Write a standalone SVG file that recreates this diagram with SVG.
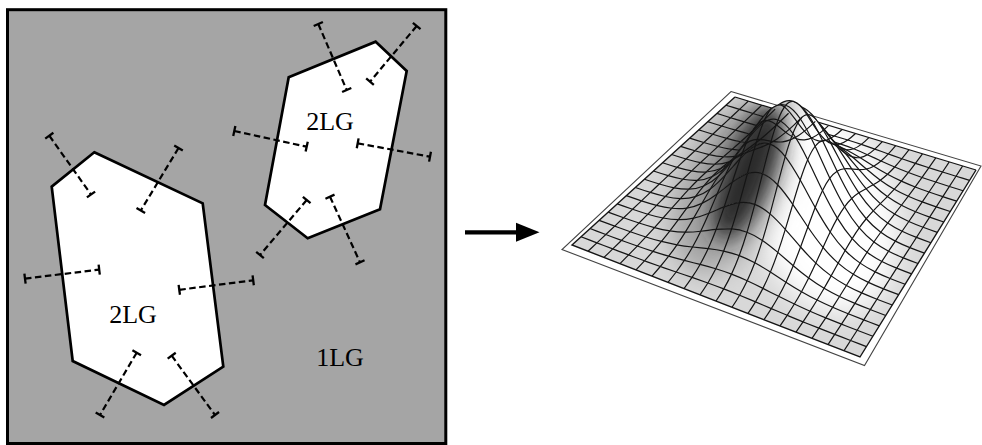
<svg xmlns="http://www.w3.org/2000/svg" width="982" height="445" viewBox="0 0 982 445">
<style>
.ol{fill:#fff;stroke:#000;stroke-width:2.7;stroke-linejoin:miter}
.ms{fill:none;stroke:#000;stroke-width:2.2;stroke-dasharray:6.5 3.5;marker-start:url(#cap);marker-end:url(#cap)}
.lbl{font-family:"Liberation Serif","Times New Roman",serif;font-size:26px;fill:#000;text-anchor:middle}
.g{fill:none;stroke:#151515;stroke-width:1.2;stroke-linejoin:round}
</style>
<defs>
<marker id="cap" markerUnits="userSpaceOnUse" markerWidth="4" markerHeight="14" viewBox="-2 -7 4 14" refX="0" refY="0" orient="auto"><path d="M0,-5V5" stroke="#000" stroke-width="2.3" fill="none"/></marker>
<filter id="bl1" x="-60%" y="-60%" width="220%" height="220%"><feGaussianBlur stdDeviation="14"/></filter>
<filter id="bl2" x="-80%" y="-60%" width="260%" height="220%"><feGaussianBlur stdDeviation="10"/></filter>
<path id="ui" class="g" vector-effect="non-scaling-stroke" d="M0,0 C.333,-.0007 .667,-.0019 1,-.0045 S1.667,-.0109 2,-.0183 S2.667,-.0367 3,-.0547 S3.667,-.0979 4,-.134 S4.667,-.2175 5,-.2769 S5.667,-.408 6,-.486 S6.667,-.6482 7,-.7257 S7.667,-.8737 8,-.923 S8.667,-1 9,-1 S9.667,-.9723 10,-.923 S10.667,-.8033 11,-.7257 S11.667,-.564 12,-.486 S12.667,-.3363 13,-.2769 S13.667,-.1702 14,-.134 S14.667,-.0727 15,-.0547 S15.667,-.0258 16,-.0183 S16.667,-.007 17,-.0045 S17.667,-.0007 18,0"/>
<path id="uj" class="g" vector-effect="non-scaling-stroke" d="M0,0 C.333,-.0057 .667,-.0136 1,-.0253 S1.667,-.0524 2,-.0737 S2.667,-.1219 3,-.1563 S3.667,-.2323 4,-.2813 S4.667,-.3865 5,-.4472 S5.667,-.5733 6,-.6375 S6.667,-.7645 7,-.8191 S7.667,-.9198 8,-.9514 S8.667,-1 9,-1 S9.667,-.983 10,-.9514 S10.667,-.8737 11,-.8191 S11.667,-.7016 12,-.6375 S12.667,-.508 13,-.4472 S13.667,-.3302 14,-.2813 S14.667,-.1906 15,-.1563 S15.667,-.0949 16,-.0737 S16.667,-.0369 17,-.0253 S17.667,-.0057 18,0"/>
<path id="fl" class="g" vector-effect="non-scaling-stroke" d="M0,0 L18,0"/>
<path id="ai" d="M0,0 C.333,-.0007 .667,-.0019 1,-.0045 S1.667,-.0109 2,-.0183 S2.667,-.0367 3,-.0547 S3.667,-.0979 4,-.134 S4.667,-.2175 5,-.2769 S5.667,-.408 6,-.486 S6.667,-.6482 7,-.7257 S7.667,-.8737 8,-.923 S8.667,-1 9,-1 S9.667,-.9723 10,-.923 S10.667,-.8033 11,-.7257 S11.667,-.564 12,-.486 S12.667,-.3363 13,-.2769 S13.667,-.1702 14,-.134 S14.667,-.0727 15,-.0547 S15.667,-.0258 16,-.0183 S16.667,-.007 17,-.0045 S17.667,-.0007 18,0 L18,-150 L0,-150 Z"/>
<path id="bi" d="M0,0 C.333,-.0007 .667,-.0019 1,-.0045 S1.667,-.0109 2,-.0183 S2.667,-.0367 3,-.0547 S3.667,-.0979 4,-.134 S4.667,-.2175 5,-.2769 S5.667,-.408 6,-.486 S6.667,-.6482 7,-.7257 S7.667,-.8737 8,-.923 S8.667,-1 9,-1 S9.667,-.9723 10,-.923 S10.667,-.8033 11,-.7257 S11.667,-.564 12,-.486 S12.667,-.3363 13,-.2769 S13.667,-.1702 14,-.134 S14.667,-.0727 15,-.0547 S15.667,-.0258 16,-.0183 S16.667,-.007 17,-.0045 S17.667,-.0007 18,0 L18,150 L0,150 Z"/>
<path id="af" d="M0,0 L18,0 L18,-400 L0,-400 Z"/>
<path id="bf" d="M0,0 L18,0 L18,400 L0,400 Z"/>
<clipPath id="cb0"><use href="#bf" transform="matrix(13.389 4.056 0 1 735 97)"/></clipPath>
<clipPath id="cb1"><use href="#bi" transform="matrix(13.534 4.176 0 2.83 725.944 105.222)"/></clipPath>
<clipPath id="cb2"><use href="#bi" transform="matrix(13.679 4.297 0 8.25 716.888 113.444)"/></clipPath>
<clipPath id="cb3"><use href="#bi" transform="matrix(13.824 4.417 0 17.5 707.832 121.666)"/></clipPath>
<clipPath id="cb4"><use href="#bi" transform="matrix(13.969 4.537 0 31.5 698.776 129.888)"/></clipPath>
<clipPath id="cb5"><use href="#bi" transform="matrix(14.114 4.658 0 50.09 689.72 138.11)"/></clipPath>
<clipPath id="cb6"><use href="#bi" transform="matrix(14.259 4.778 0 71.39 680.664 146.332)"/></clipPath>
<clipPath id="cb7"><use href="#bi" transform="matrix(14.404 4.899 0 91.74 671.608 154.554)"/></clipPath>
<clipPath id="cb8"><use href="#bi" transform="matrix(14.549 5.019 0 106.56 662.552 162.776)"/></clipPath>
<clipPath id="cb9"><use href="#bi" transform="matrix(14.695 5.139 0 112 653.496 170.998)"/></clipPath>
<clipPath id="cb10"><use href="#bi" transform="matrix(14.84 5.26 0 106.56 644.44 179.22)"/></clipPath>
<clipPath id="cb11"><use href="#bi" transform="matrix(14.985 5.38 0 91.74 635.384 187.442)"/></clipPath>
<clipPath id="cb12"><use href="#bi" transform="matrix(15.13 5.5 0 71.39 626.328 195.664)"/></clipPath>
<clipPath id="cb13"><use href="#bi" transform="matrix(15.275 5.621 0 50.09 617.272 203.886)"/></clipPath>
<clipPath id="cb14"><use href="#bi" transform="matrix(15.42 5.741 0 31.5 608.216 212.108)"/></clipPath>
<clipPath id="cb15"><use href="#bi" transform="matrix(15.565 5.862 0 17.5 599.16 220.33)"/></clipPath>
<clipPath id="cb16"><use href="#bi" transform="matrix(15.71 5.982 0 8.25 590.104 228.552)"/></clipPath>
<clipPath id="cb17"><use href="#bi" transform="matrix(15.855 6.102 0 2.83 581.048 236.774)"/></clipPath>
<clipPath id="ca1"><use href="#ai" transform="matrix(13.534 4.176 0 2.83 725.944 105.222)"/></clipPath>
<clipPath id="ca2"><use href="#ai" transform="matrix(13.679 4.297 0 8.25 716.888 113.444)"/></clipPath>
<clipPath id="ca3"><use href="#ai" transform="matrix(13.824 4.417 0 17.5 707.832 121.666)"/></clipPath>
<clipPath id="ca4"><use href="#ai" transform="matrix(13.969 4.537 0 31.5 698.776 129.888)"/></clipPath>
<clipPath id="ca5"><use href="#ai" transform="matrix(14.114 4.658 0 50.09 689.72 138.11)"/></clipPath>
<clipPath id="ca6"><use href="#ai" transform="matrix(14.259 4.778 0 71.39 680.664 146.332)"/></clipPath>
<clipPath id="ca7"><use href="#ai" transform="matrix(14.404 4.899 0 91.74 671.608 154.554)"/></clipPath>
<clipPath id="ca8"><use href="#ai" transform="matrix(14.549 5.019 0 106.56 662.552 162.776)"/></clipPath>
<clipPath id="ca9"><use href="#ai" transform="matrix(14.695 5.139 0 112 653.496 170.998)"/></clipPath>
<clipPath id="ca10"><use href="#ai" transform="matrix(14.84 5.26 0 106.56 644.44 179.22)"/></clipPath>
<clipPath id="ca11"><use href="#ai" transform="matrix(14.985 5.38 0 91.74 635.384 187.442)"/></clipPath>
<clipPath id="ca12"><use href="#ai" transform="matrix(15.13 5.5 0 71.39 626.328 195.664)"/></clipPath>
<clipPath id="ca13"><use href="#ai" transform="matrix(15.275 5.621 0 50.09 617.272 203.886)"/></clipPath>
<clipPath id="ca14"><use href="#ai" transform="matrix(15.42 5.741 0 31.5 608.216 212.108)"/></clipPath>
<clipPath id="ca15"><use href="#ai" transform="matrix(15.565 5.862 0 17.5 599.16 220.33)"/></clipPath>
<clipPath id="ca16"><use href="#ai" transform="matrix(15.71 5.982 0 8.25 590.104 228.552)"/></clipPath>
<clipPath id="ca17"><use href="#ai" transform="matrix(15.855 6.102 0 2.83 581.048 236.774)"/></clipPath>
<clipPath id="ca18"><use href="#af" transform="matrix(16 6.223 0 1 572 245)"/></clipPath>
<clipPath id="quad"><polygon points="735,97 976,170 860,357 572,245"/></clipPath>
<g id="shade">
<rect x="555" y="60" width="427" height="320" fill="#d8d8d8"/>
<ellipse cx="825" cy="210" rx="70" ry="105" transform="rotate(-15 825 210)" fill="#fff" filter="url(#bl1)"/>
<ellipse cx="728" cy="188" rx="48" ry="90" transform="rotate(22 728 188)" fill="#a0a0a0" filter="url(#bl1)"/>
<ellipse cx="748" cy="172" rx="24" ry="72" transform="rotate(22 748 172)" fill="#2a2a2a" filter="url(#bl2)"/>
</g>
<g id="cols">
<use href="#uj" transform="matrix(-8.911 8.342 0 0.5 748.39 101.06)"/>
<use href="#uj" transform="matrix(-8.766 8.463 0 2.05 761.78 105.11)"/>
<use href="#uj" transform="matrix(-8.621 8.583 0 6.12 775.17 109.17)"/>
<use href="#uj" transform="matrix(-8.476 8.703 0 15.01 788.56 113.22)"/>
<use href="#uj" transform="matrix(-8.331 8.824 0 31.02 801.94 117.28)"/>
<use href="#uj" transform="matrix(-8.186 8.944 0 54.43 815.33 121.34)"/>
<use href="#uj" transform="matrix(-8.041 9.065 0 81.28 828.72 125.39)"/>
<use href="#uj" transform="matrix(-7.896 9.185 0 103.38 842.11 129.45)"/>
<use href="#uj" transform="matrix(-7.75 9.305 0 112 855.5 133.5)"/>
<use href="#uj" transform="matrix(-7.605 9.426 0 103.38 868.89 137.56)"/>
<use href="#uj" transform="matrix(-7.46 9.546 0 81.28 882.28 141.62)"/>
<use href="#uj" transform="matrix(-7.315 9.666 0 54.43 895.67 145.67)"/>
<use href="#uj" transform="matrix(-7.17 9.787 0 31.02 909.06 149.73)"/>
<use href="#uj" transform="matrix(-7.025 9.907 0 15.01 922.45 153.78)"/>
<use href="#uj" transform="matrix(-6.88 10.028 0 6.12 935.83 157.84)"/>
<use href="#uj" transform="matrix(-6.735 10.148 0 2.05 949.22 161.9)"/>
<use href="#uj" transform="matrix(-6.59 10.268 0 0.5 962.61 165.95)"/>
</g>
</defs>

<g id="panel-1LG">
<rect x="7.5" y="9.7" width="438.3" height="433.8" fill="#a5a5a5" stroke="#000" stroke-width="3"/>
<text class="lbl" x="340" y="366">1LG</text>
</g>
<g id="grain-large">
<polygon class="ol" points="94.3,152.3 202.7,203.3 223.3,366.7 164,405 72.7,361 51.7,186.7"/>
<line class="ms" x1="49.3" y1="135.7" x2="91" y2="194.5"/>
<line class="ms" x1="178.5" y1="148" x2="140.8" y2="210.5"/>
<line class="ms" x1="25" y1="278.6" x2="99.2" y2="269.6"/>
<line class="ms" x1="179.3" y1="289.8" x2="253.2" y2="280.3"/>
<line class="ms" x1="136.7" y1="352.7" x2="100" y2="415"/>
<line class="ms" x1="171.7" y1="355.7" x2="215" y2="415"/>
<text class="lbl" x="133" y="323">2LG</text>
</g>
<g id="grain-small">
<polygon class="ol" points="375.7,41.7 406.7,71 380,209.3 307.7,238.3 265,205 288.7,77.3"/>
<line class="ms" x1="318.3" y1="24" x2="346.7" y2="90"/>
<line class="ms" x1="416.7" y1="26" x2="370" y2="81.7"/>
<line class="ms" x1="234.3" y1="131" x2="306.7" y2="146.7"/>
<line class="ms" x1="357.7" y1="143.3" x2="430" y2="156.7"/>
<line class="ms" x1="306.7" y1="200" x2="260" y2="255"/>
<line class="ms" x1="330" y1="196.7" x2="360" y2="262.3"/>
<text class="lbl" x="330" y="130">2LG</text>
</g>
<g id="connectors">
<line x1="465" y1="232.3" x2="518" y2="232.3" stroke="#000" stroke-width="4.3"/>
<polygon points="516,222.7 539.5,232.3 516,241.8" fill="#000"/>
</g>
<g id="surface">
<polygon points="731,91.5 981,166 864.5,365.5 562,249.5" fill="#fff" stroke="#444" stroke-width="1.1"/>
<g clip-path="url(#quad)"><use href="#shade"/></g>
<g clip-path="url(#ca1)"><g clip-path="url(#cb0)"><use href="#shade"/><use href="#cols"/></g></g>
<use href="#fl" transform="matrix(13.389 4.056 0 1 735 97)"/>
<g clip-path="url(#ca2)"><g clip-path="url(#cb1)"><use href="#shade"/><use href="#cols"/></g></g>
<use href="#ui" transform="matrix(13.534 4.176 0 2.83 725.944 105.222)"/>
<g clip-path="url(#ca3)"><g clip-path="url(#cb2)"><use href="#shade"/><use href="#cols"/></g></g>
<use href="#ui" transform="matrix(13.679 4.297 0 8.25 716.888 113.444)"/>
<g clip-path="url(#ca4)"><g clip-path="url(#cb3)"><use href="#shade"/><use href="#cols"/></g></g>
<use href="#ui" transform="matrix(13.824 4.417 0 17.5 707.832 121.666)"/>
<g clip-path="url(#ca5)"><g clip-path="url(#cb4)"><use href="#shade"/><use href="#cols"/></g></g>
<use href="#ui" transform="matrix(13.969 4.537 0 31.5 698.776 129.888)"/>
<g clip-path="url(#ca6)"><g clip-path="url(#cb5)"><use href="#shade"/><use href="#cols"/></g></g>
<use href="#ui" transform="matrix(14.114 4.658 0 50.09 689.72 138.11)"/>
<g clip-path="url(#ca7)"><g clip-path="url(#cb6)"><use href="#shade"/><use href="#cols"/></g></g>
<use href="#ui" transform="matrix(14.259 4.778 0 71.39 680.664 146.332)"/>
<g clip-path="url(#ca8)"><g clip-path="url(#cb7)"><use href="#shade"/><use href="#cols"/></g></g>
<use href="#ui" transform="matrix(14.404 4.899 0 91.74 671.608 154.554)"/>
<g clip-path="url(#ca9)"><g clip-path="url(#cb8)"><use href="#shade"/><use href="#cols"/></g></g>
<use href="#ui" transform="matrix(14.549 5.019 0 106.56 662.552 162.776)"/>
<g clip-path="url(#ca10)"><g clip-path="url(#cb9)"><use href="#shade"/><use href="#cols"/></g></g>
<use href="#ui" transform="matrix(14.695 5.139 0 112 653.496 170.998)"/>
<g clip-path="url(#ca11)"><g clip-path="url(#cb10)"><use href="#shade"/><use href="#cols"/></g></g>
<use href="#ui" transform="matrix(14.84 5.26 0 106.56 644.44 179.22)"/>
<g clip-path="url(#ca12)"><g clip-path="url(#cb11)"><use href="#shade"/><use href="#cols"/></g></g>
<use href="#ui" transform="matrix(14.985 5.38 0 91.74 635.384 187.442)"/>
<g clip-path="url(#ca13)"><g clip-path="url(#cb12)"><use href="#shade"/><use href="#cols"/></g></g>
<use href="#ui" transform="matrix(15.13 5.5 0 71.39 626.328 195.664)"/>
<g clip-path="url(#ca14)"><g clip-path="url(#cb13)"><use href="#shade"/><use href="#cols"/></g></g>
<use href="#ui" transform="matrix(15.275 5.621 0 50.09 617.272 203.886)"/>
<g clip-path="url(#ca15)"><g clip-path="url(#cb14)"><use href="#shade"/><use href="#cols"/></g></g>
<use href="#ui" transform="matrix(15.42 5.741 0 31.5 608.216 212.108)"/>
<g clip-path="url(#ca16)"><g clip-path="url(#cb15)"><use href="#shade"/><use href="#cols"/></g></g>
<use href="#ui" transform="matrix(15.565 5.862 0 17.5 599.16 220.33)"/>
<g clip-path="url(#ca17)"><g clip-path="url(#cb16)"><use href="#shade"/><use href="#cols"/></g></g>
<use href="#ui" transform="matrix(15.71 5.982 0 8.25 590.104 228.552)"/>
<g clip-path="url(#ca18)"><g clip-path="url(#cb17)"><use href="#shade"/><use href="#cols"/></g></g>
<use href="#ui" transform="matrix(15.855 6.102 0 2.83 581.048 236.774)"/>
<path d="M976,170 L860,357 L572,245 L735,97" fill="none" stroke="#151515" stroke-width="1.4" stroke-linejoin="miter"/>
</g>
</svg>
